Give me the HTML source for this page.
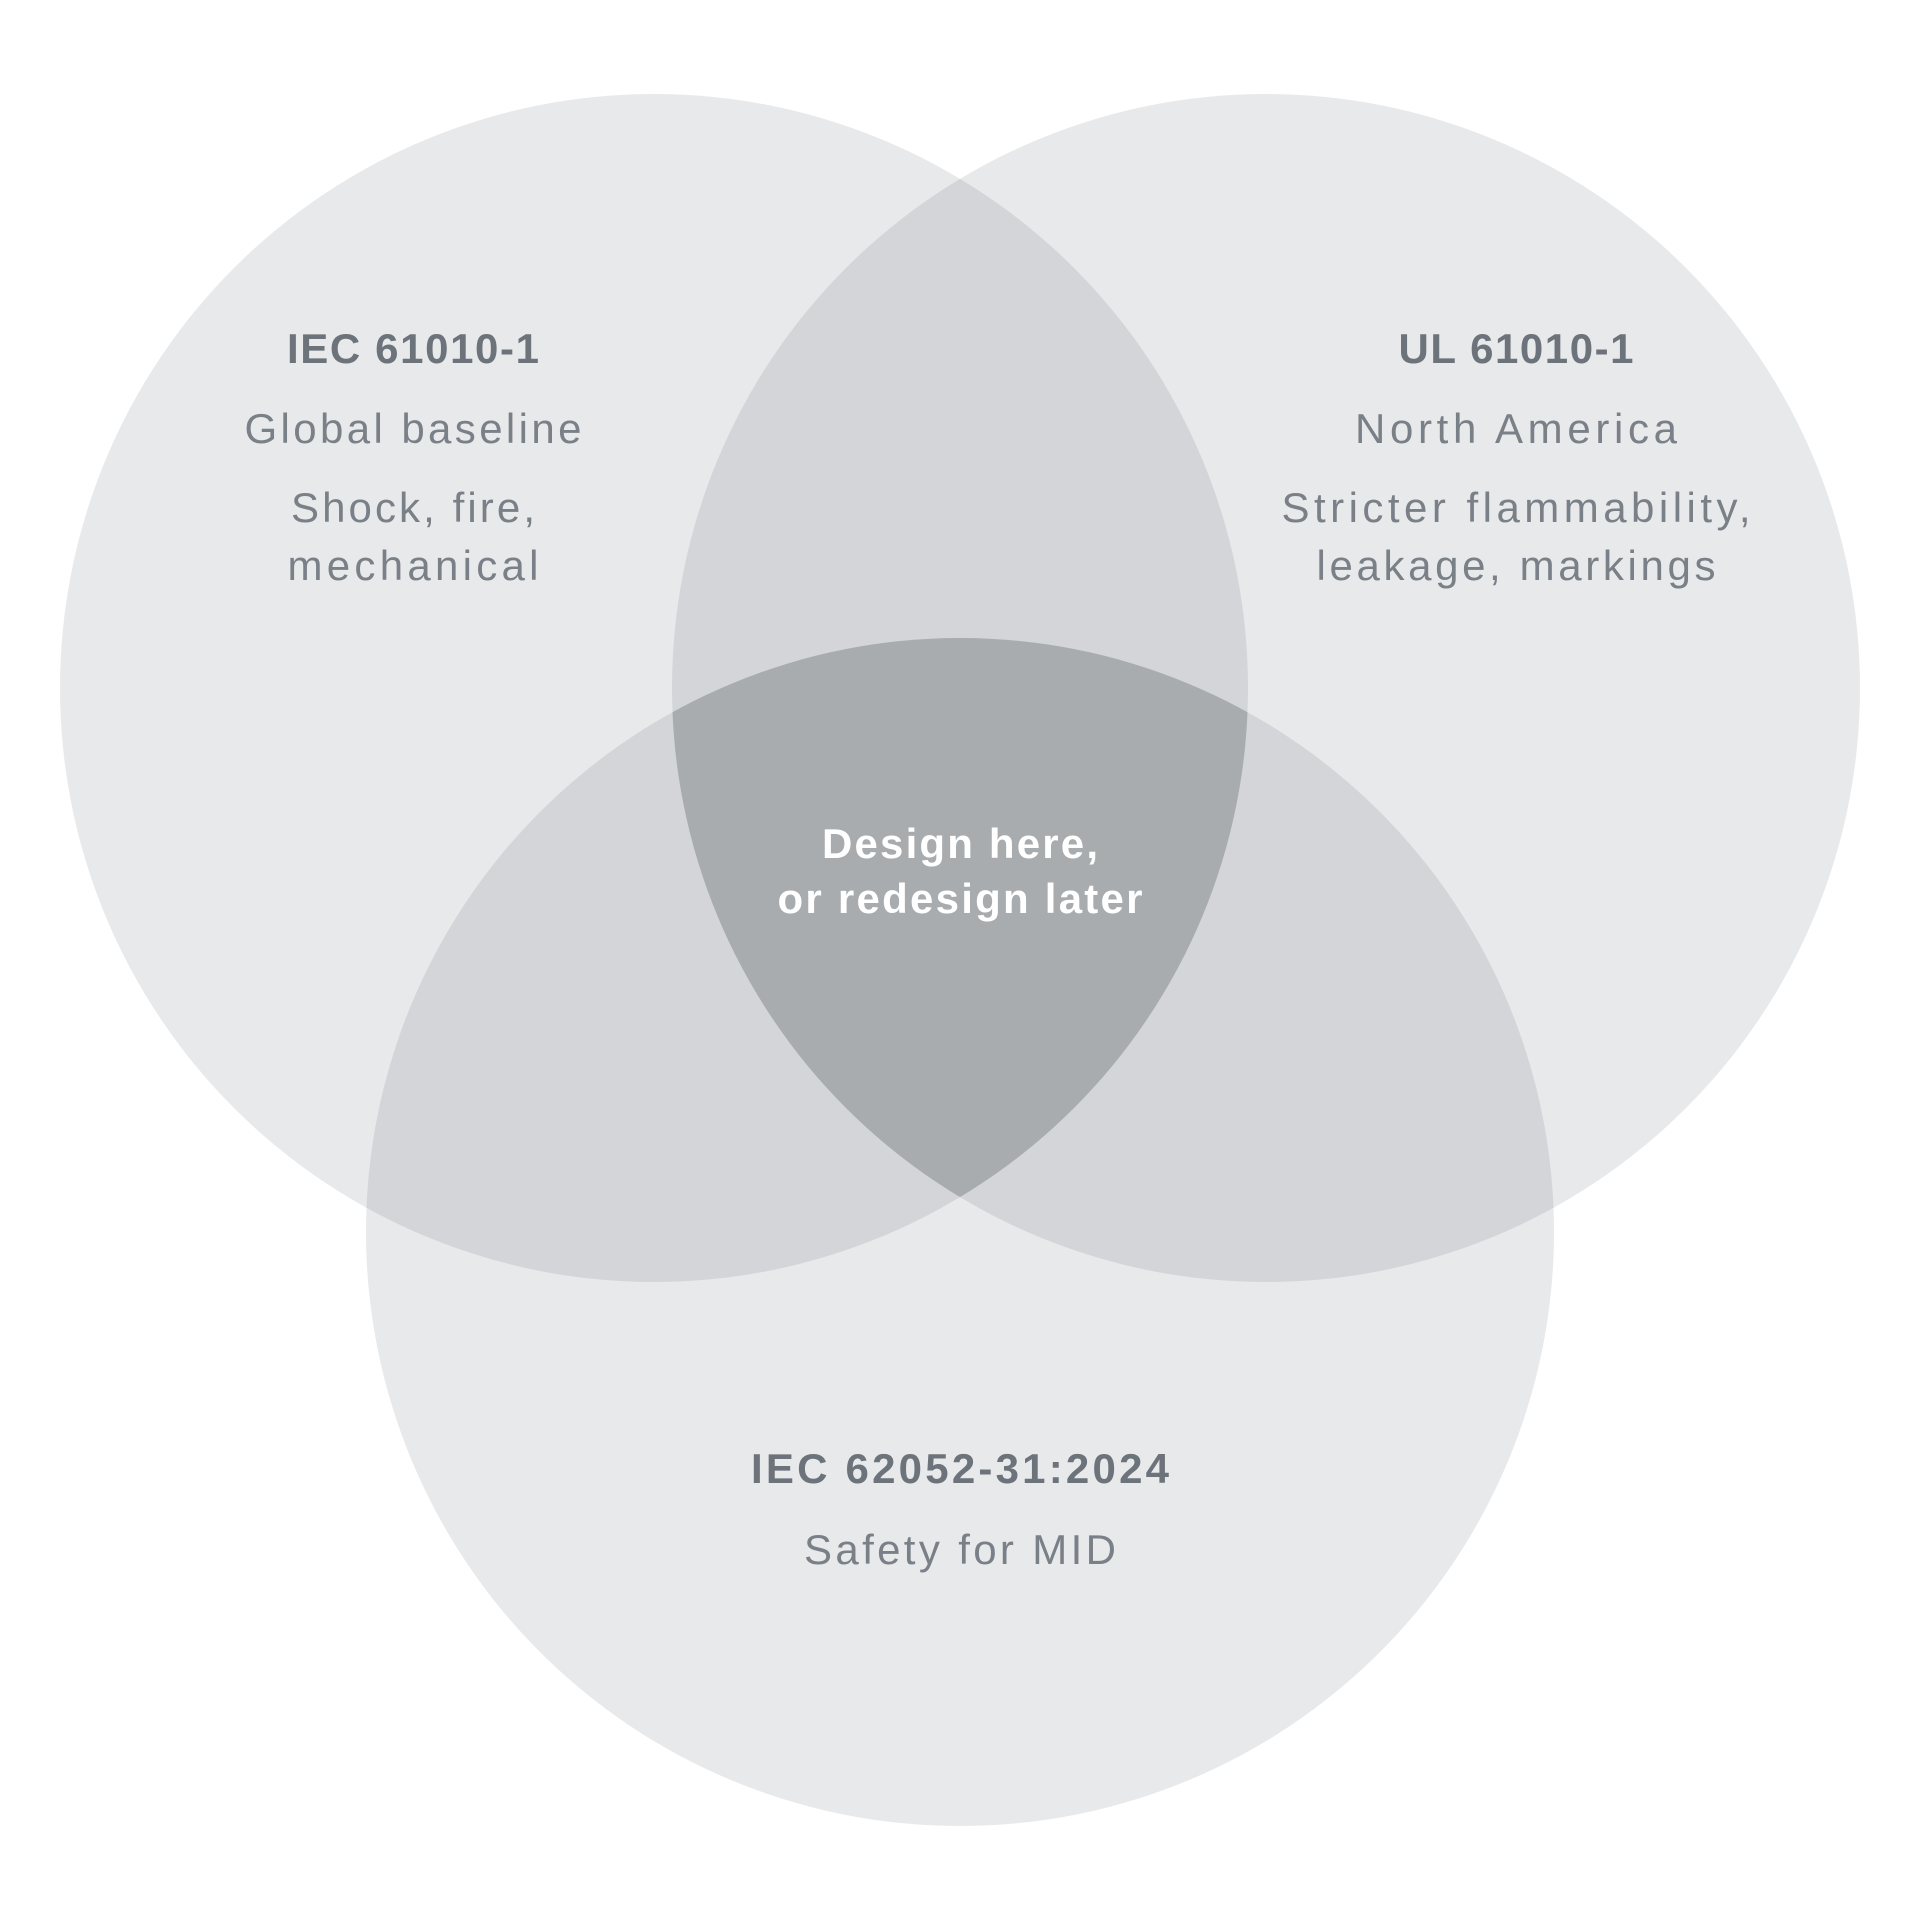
<!DOCTYPE html>
<html><head><meta charset="utf-8"><style>
html,body{margin:0;padding:0;background:#fff;}
svg{display:block;}
text{font-family:"Liberation Sans",sans-serif;text-anchor:middle;dominant-baseline:middle;}
.t{font-weight:bold;font-size:42px;fill:#6c737a;}
.b{font-size:42px;fill:#7a8087;}
.c{font-weight:bold;font-size:42px;fill:#ffffff;}
</style></head><body>
<svg width="1920" height="1920" viewBox="0 0 1920 1920" xmlns="http://www.w3.org/2000/svg">
<defs>
<clipPath id="L"><circle cx="654" cy="688" r="594"/></clipPath>
<clipPath id="R"><circle cx="1266" cy="688" r="594"/></clipPath>
<clipPath id="B"><circle cx="960" cy="1232" r="594"/></clipPath>
</defs>
<rect width="1920" height="1920" fill="#fff"/>
<circle cx="654" cy="688" r="594" fill="#e8e9eb"/>
<circle cx="1266" cy="688" r="594" fill="#e8e9eb"/>
<circle cx="960" cy="1232" r="594" fill="#e8e9eb"/>
<g clip-path="url(#L)">
<circle cx="1266" cy="688" r="594" fill="#d3d5d8"/>
<circle cx="960" cy="1232" r="594" fill="#d3d5d8"/>
</g>
<g clip-path="url(#R)">
<circle cx="960" cy="1232" r="594" fill="#d3d5d8"/>
</g>
<g clip-path="url(#L)"><g clip-path="url(#R)">
<circle cx="960" cy="1232" r="594" fill="#a8acaf"/>
</g></g>
<g lengthAdjust="spacing">
<text class="t" x="413" y="352" textLength="252" lengthAdjust="spacing">IEC 61010-1</text>
<text class="b" x="413" y="432" textLength="337" lengthAdjust="spacing">Global baseline</text>
<text class="b" x="413" y="511" textLength="244" lengthAdjust="spacing">Shock, fire,</text>
<text class="b" x="413" y="569" textLength="251" lengthAdjust="spacing">mechanical</text>
<text class="t" x="1516" y="352" textLength="235" lengthAdjust="spacing">UL 61010-1</text>
<text class="b" x="1516" y="432" textLength="322" lengthAdjust="spacing">North America</text>
<text class="b" x="1516" y="511" textLength="469" lengthAdjust="spacing">Stricter flammability,</text>
<text class="b" x="1516" y="569" textLength="399" lengthAdjust="spacing">leakage, markings</text>
<text class="c" x="960" y="847" textLength="276" lengthAdjust="spacing">Design here,</text>
<text class="c" x="960" y="902" textLength="365" lengthAdjust="spacing">or redesign later</text>
<text class="t" x="960" y="1472" textLength="418" lengthAdjust="spacing">IEC 62052-31:2024</text>
<text class="b" x="960" y="1553" textLength="312" lengthAdjust="spacing">Safety for MID</text>
</g>
</svg>
</body></html>
